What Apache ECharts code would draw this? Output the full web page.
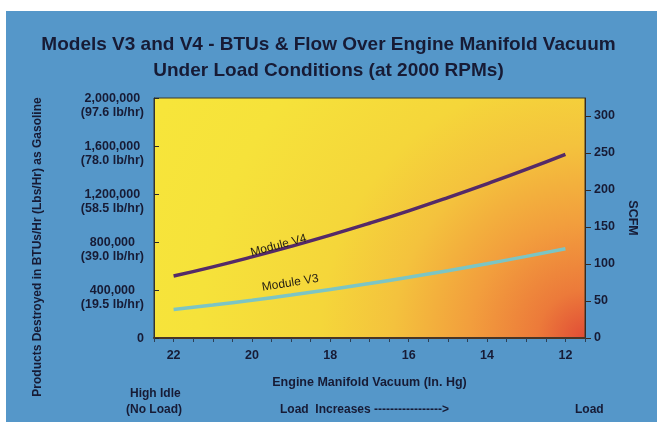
<!DOCTYPE html>
<html>
<head>
<meta charset="utf-8">
<script src="https://cdn.jsdelivr.net/npm/echarts@6/dist/echarts.min.js"></script>
<style>
  html, body { margin: 0; padding: 0; background: #ffffff; }
  #panel { position: absolute; left: 6px; top: 11px; width: 651px; height: 411px; background: #5597c9; }
  #chart { position: absolute; left: 0; top: 0; width: 657px; height: 422px; }
</style>
</head>
<body>
<div id="panel"></div>
<div id="chart"></div>
<script>
// manifold vacuum (in. Hg) readings along the x axis
const vacuum = [22, 21, 20, 19, 18, 17, 16, 15, 14, 13, 12];
// BTUs/hr destroyed
const moduleV4 = [516000, 593000, 676000, 764000, 857000, 956000, 1060000, 1170000, 1285000, 1405000, 1531000];
const moduleV3 = [237000, 275000, 315000, 358000, 405000, 454000, 506000, 561000, 619000, 680000, 744000];

const btuTicks = [0, 400000, 800000, 1200000, 1600000, 2000000];
const lbLabels = ['', '(19.5 lb/hr)', '(39.0 lb/hr)', '(58.5 lb/hr)', '(78.0 lb/hr)', '(97.6 lb/hr)'];
const scfmTicks = [0, 50, 100, 150, 200, 250, 300];
const vacuumLabels = [22, 20, 18, 16, 14, 12];

const INK = '#171b35';
const FONT = 'Liberation Sans';
const labelIdx = 3;

const chart = echarts.init(document.getElementById('chart'), null, { renderer: 'canvas' });

function lineData(values, text, rot, off) {
  return values.map((v, i) => {
    const item = { value: [vacuum[i], v] };
    if (i === labelIdx) {
      item.label = {
        show: true, formatter: text, position: 'inside', rotate: rot, offset: off,
        color: '#221d14', fontSize: 12, fontFamily: FONT
      };
    }
    return item;
  });
}

const option = {
  backgroundColor: 'transparent',
  animation: false,
  title: {
    text: 'Models V3 and V4 - BTUs & Flow Over Engine Manifold Vacuum\nUnder Load Conditions (at 2000 RPMs)',
    left: 'center',
    top: 27,
    textStyle: { color: INK, fontSize: 19, fontWeight: 'bold', fontFamily: FONT, lineHeight: 26 }
  },
  grid: {
    left: 154, right: 72, top: 98, bottom: 84,
    show: true,
    borderColor: '#3d3a2a',
    borderWidth: 1,
    backgroundColor: new echarts.graphic.RadialGradient(1, 1, 2, [
      { offset: 0, color: '#e04c36' },
      { offset: 0.1, color: '#ec7a3a' },
      { offset: 0.24, color: '#f29e3d' },
      { offset: 0.4, color: '#f4c23d' },
      { offset: 0.55, color: '#f5d63a' },
      { offset: 0.8, color: '#f6e23a' },
      { offset: 1, color: '#f7e53a' }
    ])
  },
  xAxis: {
    type: 'value',
    inverse: true,
    min: 11.5,
    max: 22.5,
    interval: 0.5,
    name: 'Engine Manifold Vacuum (In. Hg)',
    nameLocation: 'middle',
    nameGap: 38,
    nameTextStyle: { color: INK, fontSize: 12.5, fontWeight: 'bold', fontFamily: FONT },
    axisLine: { lineStyle: { color: '#4a3525', width: 2 } },
    axisTick: { show: true, length: 4, lineStyle: { color: '#2d3f55' } },
    axisLabel: {
      margin: 11,
      color: INK, fontSize: 12.5, fontWeight: 'bold', fontFamily: FONT,
      formatter: v => (vacuumLabels.indexOf(v) >= 0 ? String(v) : '')
    },
    splitLine: { show: false }
  },
  yAxis: [
    {
      type: 'value',
      min: 0,
      max: 2000000,
      interval: 400000,
      name: 'Products Destroyed in BTUs/Hr (Lbs/Hr) as Gasoline',
      nameLocation: 'middle',
      nameGap: 110,
      nameTextStyle: { color: INK, fontSize: 12, fontWeight: 'bold', fontFamily: FONT, padding: [0, 58, 0, 0] },
      axisLine: { show: true, lineStyle: { color: '#333333', width: 1 } },
      axisTick: { show: true, inside: true, length: 5, lineStyle: { color: '#2a2a2a' } },
      splitLine: { show: false },
      axisLabel: {
        margin: 10,
        padding: [16, 0, 0, 0],
        formatter: v => {
          const i = btuTicks.indexOf(v);
          if (v === 0) return '{z|0}\n{z| }';
          return '{a|' + v.toLocaleString('en-US') + '}\n{a|' + lbLabels[i] + '}';
        },
        rich: {
          a: { align: 'center', color: INK, fontSize: 12.5, fontWeight: 'bold', fontFamily: FONT, lineHeight: 14 },
          z: { align: 'right', color: INK, fontSize: 12.5, fontWeight: 'bold', fontFamily: FONT, lineHeight: 14 }
        }
      }
    },
    {
      type: 'value',
      position: 'right',
      min: 0,
      max: 324,
      name: 'SCFM',
      nameLocation: 'middle',
      nameRotate: -90,
      nameGap: 38,
      nameTextStyle: { color: INK, fontSize: 12.5, fontWeight: 'bold', fontFamily: FONT },
      axisLine: { show: true, lineStyle: { color: '#3a2a20', width: 1 } },
      axisTick: { show: true, length: 6, customValues: scfmTicks, lineStyle: { color: '#3a2a20' } },
      axisLabel: {
        margin: 9, customValues: scfmTicks,
        color: INK, fontSize: 12.5, fontWeight: 'bold', fontFamily: FONT
      },
      splitLine: { show: false }
    }
  ],
  series: [
    {
      name: 'Module V4',
      type: 'line',
      smooth: true,
      symbol: 'circle',
      symbolSize: 1,
      showSymbol: true,
      itemStyle: { color: 'rgba(0,0,0,0)' },
      lineStyle: { color: '#552a68', width: 3.5 },
      data: lineData(moduleV4, 'Module V4', 15, [-12, -4])
    },
    {
      name: 'Module V3',
      type: 'line',
      smooth: true,
      symbol: 'circle',
      symbolSize: 1,
      showSymbol: true,
      itemStyle: { color: 'rgba(0,0,0,0)' },
      lineStyle: { color: '#7cc5c4', width: 3.5 },
      data: lineData(moduleV3, 'Module V3', 9, [1, -12])
    }
  ],
  graphic: [
    { type: 'text', left: 130, top: 388, style: { text: 'High Idle', fill: INK, font: 'bold 12px "Liberation Sans"' } },
    { type: 'text', left: 126, top: 404, style: { text: '(No Load)', fill: INK, font: 'bold 12px "Liberation Sans"' } },
    { type: 'text', left: 280, top: 404, style: { text: 'Load  Increases ----------------->', fill: INK, font: 'bold 12px "Liberation Sans"' } },
    { type: 'text', left: 575, top: 404, style: { text: 'Load', fill: INK, font: 'bold 12px "Liberation Sans"' } }
  ]
};

chart.setOption(option);
window.addEventListener('resize', () => chart.resize());
</script>
</body>
</html>
